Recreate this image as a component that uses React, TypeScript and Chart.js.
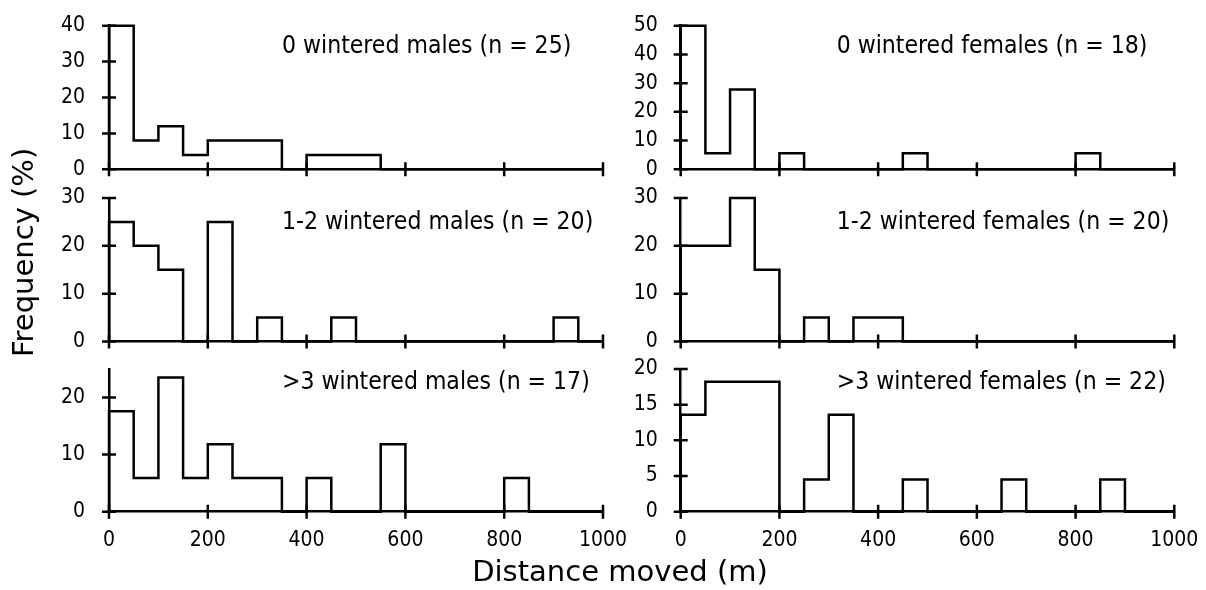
import React, { useEffect, useRef } from "react";
import { Chart, registerables } from "chart.js";

Chart.register(...registerables);

// ---------- data ----------
const BIN_STARTS = [0, 50, 100, 150, 200, 250, 300, 350, 400, 450, 500, 550, 600, 650, 700, 750, 800, 850, 900, 950];
const X_MAX = 1000;
const X_STEP = 200;

const MALES_0 = [40, 8, 12, 4, 8, 8, 8, 0, 4, 4, 4, 0, 0, 0, 0, 0, 0, 0, 0, 0];
const FEMALES_0 = [50, 5.6, 27.8, 0, 5.6, 0, 0, 0, 0, 5.6, 0, 0, 0, 0, 0, 0, 5.6, 0, 0, 0];
const MALES_12 = [25, 20, 15, 0, 25, 0, 5, 0, 0, 5, 0, 0, 0, 0, 0, 0, 0, 0, 5, 0];
const FEMALES_12 = [20, 20, 30, 15, 0, 5, 0, 5, 5, 0, 0, 0, 0, 0, 0, 0, 0, 0, 0, 0];
const MALES_3 = [17.6, 5.9, 23.5, 5.9, 11.8, 5.9, 5.9, 0, 5.9, 0, 0, 11.8, 0, 0, 0, 0, 5.9, 0, 0, 0];
const FEMALES_3 = [13.6, 18.2, 18.2, 18.2, 0, 4.5, 13.6, 0, 0, 4.5, 0, 0, 0, 4.5, 0, 0, 0, 4.5, 0, 0];

const LABELS = [
  "0 wintered males (n = 25)",
  "0 wintered females (n = 18)",
  "1-2 wintered males (n = 20)",
  "1-2 wintered females (n = 20)",
  ">3 wintered males (n = 17)",
  ">3 wintered females (n = 22)",
];
const SERIES = [MALES_0, FEMALES_0, MALES_12, FEMALES_12, MALES_3, FEMALES_3];
const Y_MAX = [40, 50, 30, 30, 25, 20];
const Y_STEP = [10, 10, 10, 10, 10, 5];

const X_TITLE = "Distance moved (m)";
const Y_TITLE = "Frequency (%)";

// ---------- layout ----------
const COLS = [
  { canvasLeft: 0, canvasWidth: 635, plotLeft: 109, plotRight: 603, labelDx: 173, yPad: 24 },
  { canvasLeft: 635, canvasWidth: 571, plotLeft: 680.7, plotRight: 1174.3, labelDx: 156, yPad: 23 },
];
const ROWS = [
  { canvasTop: 0, canvasHeight: 184, plotTop: 25.7, plotBottom: 169.3, labelDy: 27.3, showX: false },
  { canvasTop: 184, canvasHeight: 172, plotTop: 198, plotBottom: 341.5, labelDy: 30.5, showX: false },
  { canvasTop: 356, canvasHeight: 204, plotTop: 369, plotBottom: 511.7, labelDy: 19.5, showX: true },
];

const FONT_FAMILY = "'DejaVu Sans Condensed', 'Liberation Sans', sans-serif";
const LINE_W = 2.5;

const crossTicks = {
  id: "crossTicks",
  afterDatasetsDraw(chart: any) {
    const { ctx, chartArea, scales } = chart;
    const x = scales.x;
    const y = scales.y;
    ctx.save();
    ctx.strokeStyle = "#000";
    ctx.lineWidth = LINE_W;
    ctx.beginPath();
    y.ticks.forEach((t: any) => {
      const py = y.getPixelForValue(t.value);
      ctx.moveTo(chartArea.left - 7, py);
      ctx.lineTo(chartArea.left + 7, py);
    });
    x.ticks.forEach((t: any) => {
      const px = x.getPixelForValue(t.value);
      ctx.moveTo(px, chartArea.bottom - 7);
      ctx.lineTo(px, chartArea.bottom + 7);
    });
    ctx.stroke();
    ctx.restore();
  },
};

const panelLabel = {
  id: "panelLabel",
  afterDraw(chart: any, _args: any, opts: any) {
    const { ctx, chartArea } = chart;
    ctx.save();
    ctx.fillStyle = "#000";
    ctx.font = `24.5px ${FONT_FAMILY}`;
    ctx.textAlign = "left";
    ctx.textBaseline = "alphabetic";
    ctx.fillText(opts.text, chartArea.left + opts.dx, chartArea.top + opts.dy);
    ctx.restore();
  },
};

function buildPoints(values: number[]) {
  const pts: { x: number; y: number }[] = [{ x: BIN_STARTS[0], y: 0 }];
  values.forEach((v, i) => pts.push({ x: BIN_STARTS[i], y: v }));
  pts.push({ x: X_MAX, y: 0 });
  return pts;
}

export default function App() {
  const refs = useRef<(HTMLCanvasElement | null)[]>([]);

  useEffect(() => {
    const charts: Chart[] = [];
    SERIES.forEach((values, i) => {
      const col = COLS[i % 2];
      const row = ROWS[Math.floor(i / 2)];
      const canvas = refs.current[i];
      if (!canvas) return;
      const tickFont = { family: FONT_FAMILY, size: 21 };
      const chart = new Chart(canvas, {
        type: "line",
        data: {
          datasets: [
            {
              data: buildPoints(values),
              borderColor: "#000",
              borderWidth: LINE_W,
              pointRadius: 0,
              fill: false,
              stepped: "before",
              clip: 6,
              tension: 0,
            } as any,
          ],
        },
        options: {
          responsive: false,
          animation: false,
          devicePixelRatio: 1,
          events: [],
          layout: {
            padding: {
              left: 0,
              bottom: 0,
              top: row.plotTop - row.canvasTop,
              right: col.canvasLeft + col.canvasWidth - col.plotRight,
            },
          },
          plugins: {
            legend: { display: false },
            tooltip: { enabled: false },
            title: { display: false },
            panelLabel: { text: LABELS[i], dx: col.labelDx, dy: row.labelDy },
          } as any,
          scales: {
            x: {
              type: "linear",
              min: 0,
              max: X_MAX,
              grid: { display: false, drawTicks: false },
              border: { display: true, color: "#000", width: LINE_W },
              ticks: {
                display: row.showX,
                stepSize: X_STEP,
                color: "#000",
                font: tickFont,
                padding: 16,
                maxRotation: 0,
                autoSkip: false,
                includeBounds: false,
                callback: (v: any) => String(v),
              },
              afterFit: (s: any) => {
                s.height = row.canvasTop + row.canvasHeight - row.plotBottom;
                s.paddingLeft = 0;
                s.paddingRight = 0;
              },
            },
            y: {
              type: "linear",
              min: 0,
              max: Y_MAX[i],
              grid: { display: false, drawTicks: false },
              border: { display: true, color: "#000", width: LINE_W },
              ticks: {
                stepSize: Y_STEP[i],
                color: "#000",
                font: tickFont,
                padding: col.yPad,
                autoSkip: false,
                includeBounds: false,
                callback: (v: any) => String(v),
              },
              afterFit: (s: any) => {
                s.width = col.plotLeft - col.canvasLeft;
                s.paddingTop = 0;
                s.paddingBottom = 0;
              },
            },
          } as any,
        },
        plugins: [crossTicks, panelLabel],
      });
      charts.push(chart);
    });
    return () => charts.forEach((c) => c.destroy());
  }, []);

  return (
    <div style={{ position: "absolute", left: 0, top: 0, width: 1206, height: 590, background: "#fff", overflow: "hidden" }}>
      {SERIES.map((_, i) => {
        const col = COLS[i % 2];
        const row = ROWS[Math.floor(i / 2)];
        return (
          <canvas
            key={i}
            ref={(el) => {
              refs.current[i] = el;
            }}
            width={col.canvasWidth}
            height={row.canvasHeight}
            style={{
              position: "absolute",
              left: col.canvasLeft,
              top: row.canvasTop,
              width: col.canvasWidth,
              height: row.canvasHeight,
              display: "block",
            }}
          />
        );
      })}
      <div
        style={{
          position: "absolute",
          left: 320,
          width: 600,
          top: 557,
          textAlign: "center",
          fontFamily: "'DejaVu Sans', sans-serif",
          fontSize: 29,
          lineHeight: "29px",
          color: "#000",
          whiteSpace: "nowrap",
        }}
      >
        {X_TITLE}
      </div>
      <div
        style={{
          position: "absolute",
          left: 8.8,
          top: 357,
          transform: "rotate(-90deg)",
          transformOrigin: "0 0",
          fontFamily: "'DejaVu Sans', sans-serif",
          fontSize: 29,
          lineHeight: "29px",
          color: "#000",
          whiteSpace: "nowrap",
        }}
      >
        {Y_TITLE}
      </div>
    </div>
  );
}
